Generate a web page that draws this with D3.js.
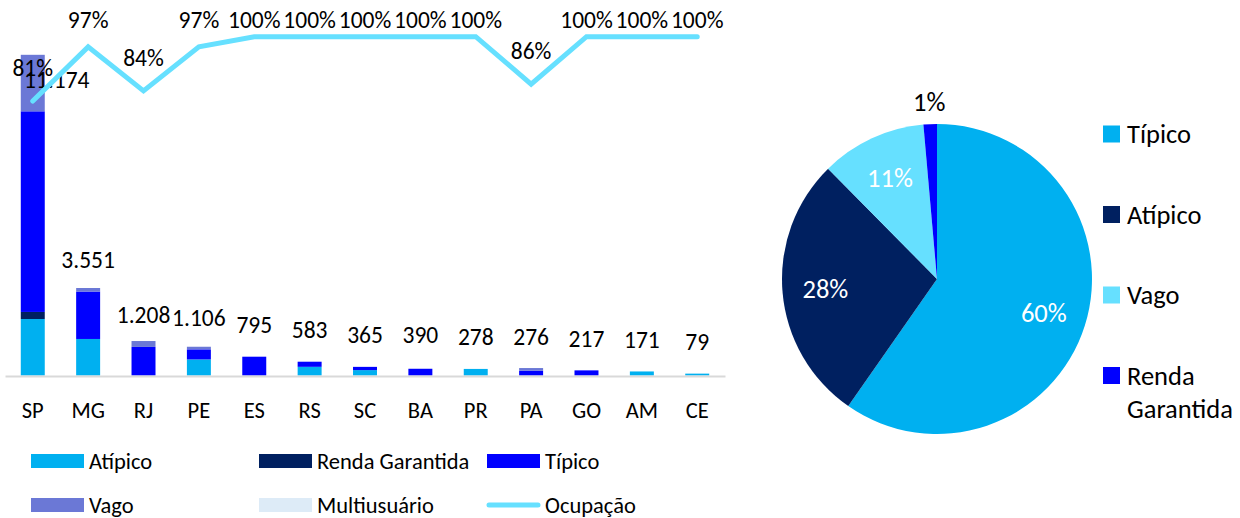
<!DOCTYPE html>
<html>
<head>
<meta charset="utf-8">
<script src="https://cdn.jsdelivr.net/npm/d3@7"></script>
<style>
  body { margin: 0; background: #fff; }
  svg { display: block; font-family: Calibri, Carlito, Lato, sans-serif; }
</style>
</head>
<body>
<svg id="chart" width="1240" height="518"></svg>
<script>
// estados e valores
const states = ["SP", "MG", "RJ", "PE", "ES", "RS", "SC", "BA", "PR", "PA", "GO", "AM", "CE"];
const atipico = [2390, 1545, 0, 680, 0, 367, 228, 0, 278, 0, 0, 171, 79];
const rendaGarantida = [298, 0, 0, 0, 0, 0, 0, 0, 0, 0, 0, 0, 0];
const tipico = [8486, 2006, 1208, 426, 795, 216, 137, 285, 0, 205, 217, 0, 0];
const vago = [2390, 150, 250, 110, 0, 0, 0, 0, 0, 110, 0, 0, 0];
const multiusuario = [0, 0, 0, 0, 0, 0, 0, 0, 0, 0, 0, 0, 0];
const totals = [11174, 3551, 1208, 1106, 795, 583, 365, 390, 278, 276, 217, 171, 79];
const ocupacao = [0.81, 0.97, 0.84, 0.97, 1, 1, 1, 1, 1, 0.86, 1, 1, 1];

// pizza
const pieLabels = ["Típico", "Atípico", "Vago", "Renda Garantida"];
const pieValues = [59.7, 27.9, 11.0, 1.4];

const keys = ["Atípico", "Renda Garantida", "Típico", "Vago", "Multiusuário"];
const barColors = {
  "Atípico": "#00b0f0",
  "Renda Garantida": "#002060",
  "Típico": "#0000ff",
  "Vago": "#6b78d6",
  "Multiusuário": "#ddebf7"
};
const lineColor = "#66e0ff";
const pieColors = ["#00b0f0", "#002060", "#66e0ff", "#0000ff"];

const fs = 22.5;     // texto do gráfico de barras
const nfs = 23.5;    // rótulos numéricos
const pfs = 26.5;    // texto da pizza

const ptBR = d3.formatLocale({decimal: ",", thousands: ".", grouping: [3], currency: ["R$", ""]});
const fmtNum = ptBR.format(",d");
const fmtPct = d3.format(".0%");

const svg = d3.select("#chart");
svg.append("rect").attr("width", 1240).attr("height", 518).attr("fill", "#fff");

const rows = states.map((s, i) => ({
  state: s,
  "Atípico": atipico[i],
  "Renda Garantida": rendaGarantida[i],
  "Típico": tipico[i],
  "Vago": vago[i],
  "Multiusuário": multiusuario[i]
}));

const x = d3.scaleBand()
    .domain(states)
    .range([5, 725])
    .paddingInner(0.567)
    .paddingOuter(0.285);

const y = d3.scaleLinear().domain([0, 14330]).range([375.5, 36.7]);
const y2 = d3.scaleLinear().domain([0, 1]).range([375.5, 36.7]);

const stacked = d3.stack().keys(keys)(rows);

svg.append("g")
  .selectAll("g")
  .data(stacked)
  .join("g")
    .attr("fill", d => barColors[d.key])
  .selectAll("rect")
  .data(d => d)
  .join("rect")
    .attr("x", d => x(d.data.state))
    .attr("width", x.bandwidth())
    .attr("y", d => y(d[1]))
    .attr("height", d => y(d[0]) - y(d[1]));

// eixo x
const xAxis = svg.append("g")
    .attr("transform", "translate(0,376)")
    .call(d3.axisBottom(x).tickSize(0).tickSizeOuter(0));
xAxis.select(".domain").attr("stroke", "#d9d9d9").attr("stroke-width", 2);
xAxis.selectAll("text")
    .attr("y", 34)
    .attr("dy", "0.35em")
    .attr("fill", "#000")
    .style("font-family", "Calibri, Carlito, Lato, sans-serif")
    .style("font-size", fs + "px");

// rótulos de total
svg.append("g")
  .selectAll("text")
  .data(states)
  .join("text")
    .attr("x", (d, i) => x(d) + x.bandwidth() / 2 + (i === 0 ? 24 : 0))
    .attr("y", (d, i) => y(totals[i]) - 32)
    .attr("dy", "0.35em")
    .attr("text-anchor", "middle")
    .attr("font-size", nfs)
    .attr("fill", "#000")
    .text((d, i) => fmtNum(totals[i]));

// linha de ocupação
const line = d3.line()
    .x((d, i) => x(states[i]) + x.bandwidth() / 2)
    .y(d => y2(d));

svg.append("path")
    .datum(ocupacao)
    .attr("fill", "none")
    .attr("stroke", lineColor)
    .attr("stroke-width", 5)
    .attr("stroke-linejoin", "miter")
    .attr("stroke-linecap", "round")
    .attr("d", line);

svg.append("g")
  .selectAll("text")
  .data(ocupacao)
  .join("text")
    .attr("x", (d, i) => x(states[i]) + x.bandwidth() / 2)
    .attr("y", d => Math.max(y2(d) - 33, 20))
    .attr("dy", "0.35em")
    .attr("text-anchor", "middle")
    .attr("font-size", nfs)
    .attr("fill", "#000")
    .text(d => fmtPct(d));

// legenda das barras
const legendItems = [
  {name: "Atípico", col: 0, row: 0},
  {name: "Renda Garantida", col: 1, row: 0},
  {name: "Típico", col: 2, row: 0},
  {name: "Vago", col: 0, row: 1},
  {name: "Multiusuário", col: 1, row: 1},
  {name: "Ocupação", col: 2, row: 1, line: true}
];
const legColX = [31, 259, 487];
const legRowY = [461, 505];

const leg = svg.append("g")
  .selectAll("g")
  .data(legendItems)
  .join("g")
    .attr("transform", d => `translate(${legColX[d.col]},${legRowY[d.row]})`);

leg.filter(d => !d.line).append("rect")
    .attr("x", 0).attr("y", -7)
    .attr("width", 53).attr("height", 14)
    .attr("fill", d => barColors[d.name]);

leg.filter(d => d.line).append("line")
    .attr("x1", 2).attr("x2", 51)
    .attr("stroke", lineColor)
    .attr("stroke-width", 5)
    .attr("stroke-linecap", "round");

leg.append("text")
    .attr("x", 58)
    .attr("dy", "0.35em")
    .attr("font-size", fs)
    .attr("fill", "#000")
    .text(d => d.name);

// pizza
const cx = 937, cy = 279, R = 155;
const pie = d3.pie().sort(null).value(d => d)(pieValues);
const arc = d3.arc().innerRadius(0).outerRadius(R);
const labelArc = d3.arc().innerRadius(112).outerRadius(112);
const outArc = d3.arc().innerRadius(177).outerRadius(177);

const pg = svg.append("g").attr("transform", `translate(${cx},${cy})`);
pg.selectAll("path")
  .data(pie)
  .join("path")
    .attr("d", arc)
    .attr("fill", (d, i) => pieColors[i]);

const total = d3.sum(pieValues);
pg.selectAll("text")
  .data(pie)
  .join("text")
    .attr("transform", d => `translate(${(d.value / total < 0.05 ? outArc : labelArc).centroid(d)})`)
    .attr("text-anchor", "middle")
    .attr("dy", "0.35em")
    .attr("font-size", pfs)
    .attr("fill", d => d.value / total < 0.05 ? "#000" : "#fff")
    .text(d => fmtPct(d.value / total));

// legenda da pizza
const pl = svg.append("g")
  .selectAll("g")
  .data(pieLabels)
  .join("g")
    .attr("transform", (d, i) => `translate(1103,${134 + i * 80.5})`);

pl.append("rect")
    .attr("x", 0).attr("y", -8.5)
    .attr("width", 17).attr("height", 17)
    .attr("fill", (d, i) => pieColors[i]);

pl.append("text")
    .attr("x", 24)
    .attr("font-size", pfs)
    .attr("fill", "#000")
    .selectAll("tspan")
    .data(d => d.split(" "))
    .join("tspan")
      .attr("x", 24)
      .attr("dy", (d, i) => i === 0 ? "0.35em" : "1.25em")
      .text(d => d);
</script>
</body>
</html>
